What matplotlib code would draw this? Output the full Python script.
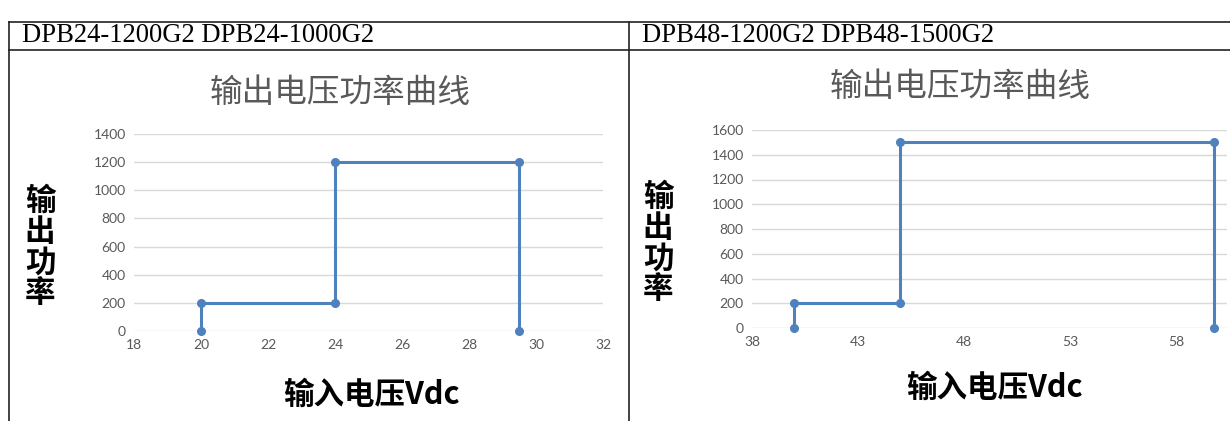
import matplotlib.pyplot as plt
from matplotlib.lines import Line2D

W, H = 1230, 421

# left chart: DPB24 models
volt_24 = [20, 20, 24, 24, 29.5, 29.5]
power_24 = [0, 200, 200, 1200, 1200, 0]
xticks_24 = [18, 20, 22, 24, 26, 28, 30, 32]
yticks_24 = [0, 200, 400, 600, 800, 1000, 1200, 1400]

# right chart: DPB48 models
volt_48 = [40, 40, 45, 45, 59.8, 59.8]
power_48 = [0, 200, 200, 1500, 1500, 0]
xticks_48 = [38, 43, 48, 53, 58]
yticks_48 = [0, 200, 400, 600, 800, 1000, 1200, 1400, 1600]

headers = ['DPB24-1200G2 DPB24-1000G2', 'DPB48-1200G2 DPB48-1500G2']
title = '输出电压功率曲线'
ylabel = '输出功率'
xlabel = '输入电压Vdc'

BLUE = '#4F81BD'
GRAY = '#595959'
CJK = ['Noto Sans CJK SC', 'DejaVu Sans']


def px_axes(fig, x0, y0, x1, y1):
    # x0,y0 top-left; x1,y1 bottom-right in pixels
    return fig.add_axes([x0 / W, 1 - y1 / H, (x1 - x0) / W, (y1 - y0) / H])


def draw_chart(ax, x, y, xticks, yticks, xlim, ylim):
    ax.plot(x, y, color=BLUE, lw=2.2, marker='o', ms=5.5, clip_on=False, zorder=3)
    ax.set_xlim(*xlim)
    ax.set_ylim(*ylim)
    ax.set_xticks(xticks)
    ax.set_yticks(yticks)
    ax.grid(axis='y', color='#D9D9D9', lw=1)
    ax.set_axisbelow(True)
    for s in ax.spines.values():
        s.set_visible(False)
    ax.tick_params(length=0, labelsize=10, labelcolor=GRAY, pad=6)
    for lab in ax.get_xticklabels() + ax.get_yticklabels():
        lab.set_family('Lato')


fig = plt.figure(figsize=(W / 100, H / 100), dpi=100)
fig.patch.set_facecolor('white')

# table grid
bg = fig.add_axes([0, 0, 1, 1])
bg.set_xlim(0, W)
bg.set_ylim(H, 0)
bg.axis('off')
for yy in (22, 50):
    bg.add_line(Line2D([9, W], [yy, yy], color='#222222', lw=1.2))
for xx in (9, 629):
    bg.add_line(Line2D([xx, xx], [22, H], color='#222222', lw=1.2))

bg.text(22, 36, headers[0], family='Liberation Serif', fontsize=19.2, va='center')
bg.text(642, 36, headers[1], family='Liberation Serif', fontsize=19.2, va='center')

# chart texts
bg.text(340, 93, title, family=CJK, fontsize=23.5, color=GRAY, ha='center', va='center')
bg.text(960, 87, title, family=CJK, fontsize=23.5, color=GRAY, ha='center', va='center')
bg.text(40, 247, '\n'.join(ylabel), family=CJK, fontsize=22, weight='bold',
        ha='center', va='center', linespacing=0.95)
bg.text(658, 243, '\n'.join(ylabel), family=CJK, fontsize=22, weight='bold',
        ha='center', va='center', linespacing=0.95)
bg.text(371, 395, xlabel, family=CJK, fontsize=22, weight='bold', ha='center', va='center')
bg.text(994, 388, xlabel, family=CJK, fontsize=22, weight='bold', ha='center', va='center')

ax1 = px_axes(fig, 134, 134, 603, 331)
draw_chart(ax1, volt_24, power_24, xticks_24, yticks_24, (18, 32), (0, 1400))

ax2 = px_axes(fig, 752, 130, 1227, 328)
draw_chart(ax2, volt_48, power_48, xticks_48, yticks_48, (38, 60.4), (0, 1600))

fig.savefig('out.png', dpi=100)
